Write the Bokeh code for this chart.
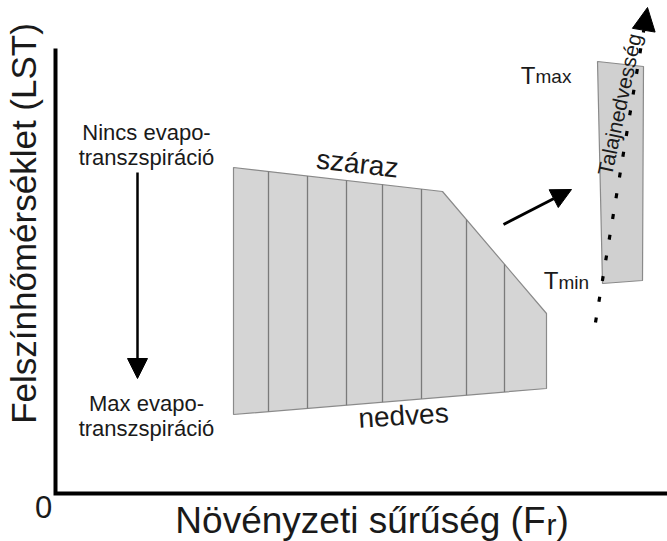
from bokeh.plotting import figure
from bokeh.models import Range1d, Arrow, NormalHead
from bokeh.core.properties import value
from bokeh.embed import file_html
from bokeh.resources import INLINE
import numpy as np

FONT = "Liberation Sans"
INK = "#1a1a1a"

# ---- schematic data (axis units, origin at the axes corner) ----
axis_x_end = 620
axis_y_top = 445

dry_fr = [178, 387, 491]          # dry edge (száraz)
dry_lst = [326, 302, 180]
wet_fr = [178, 491]               # wet edge (nedves)
wet_lst = [79, 105]
column_fr = [213, 252, 291, 327, 366, 411, 449]

box_fr = [542, 588, 587, 547]     # soil-moisture box
box_lst = [432, 427, 213, 210]

moist_start = [540, 171]
moist_end = [592, 486]
shift_start = [448, 269]
shift_end = [516, 304]
et_fr = 82
et_top = 321
et_bottom = 115

labels_left = ["Nincs evapo-", "transzspiráció", "Max evapo-", "transzspiráció"]
labels_left_fr = 91
labels_left_lst = [361, 336, 90, 65]

p = figure(width=667, height=541, output_backend="svg", toolbar_location=None,
           x_range=Range1d(-55, 612), y_range=Range1d(-48, 493),
           min_border=0, outline_line_color=None)
p.axis.visible = False
p.grid.visible = False
p.background_fill_color = "white"

# axes
p.line([0, 0, axis_x_end], [axis_y_top, 0, 0], line_width=4, line_color="black", line_join="miter")

# trapezoid
px = [dry_fr[0], dry_fr[1], dry_fr[2], wet_fr[1], wet_fr[0]]
py = [dry_lst[0], dry_lst[1], dry_lst[2], wet_lst[1], wet_lst[0]]
p.patch(px, py, fill_color="#d5d5d5", line_color="#8a8a8a", line_width=1.2)
p.segment(x0=column_fr, y0=np.interp(column_fr, wet_fr, wet_lst),
          x1=column_fr, y1=np.interp(column_fr, dry_fr, dry_lst),
          line_color="#7a7a7a", line_width=1.3)

# soil moisture box
p.patch(box_fr, box_lst, fill_color="#d0d0d0", line_color="#8a8a8a", line_width=1.2)

# arrows
p.add_layout(Arrow(end=NormalHead(size=20, fill_color="black", line_color="black"),
                   x_start=et_fr, y_start=et_top, x_end=et_fr, y_end=et_bottom,
                   line_width=2.5, line_color="black"))
p.add_layout(Arrow(end=NormalHead(size=20, fill_color="black", line_color="black"),
                   x_start=shift_start[0], y_start=shift_start[1], x_end=shift_end[0], y_end=shift_end[1],
                   line_width=3, line_color="black"))
p.add_layout(Arrow(end=NormalHead(size=23, fill_color="black", line_color="black", line_dash="solid"),
                   x_start=moist_start[0], y_start=moist_start[1], x_end=moist_end[0], y_end=moist_end[1],
                   line_width=3.2, line_color="black", line_dash="5 16"))

# texts
p.text(x=[labels_left_fr] * 4, y=labels_left_lst, text=labels_left, text_align="center",
       text_baseline="middle", text_font=value(FONT), text_font_size="22px", text_color=INK)
p.text(x=[302], y=[330], text=["száraz"], angle=np.deg2rad(-6.5), text_align="center", text_baseline="middle",
       text_font=value(FONT), text_font_size="28px", text_color=INK)
p.text(x=[348], y=[78], text=["nedves"], angle=np.deg2rad(3.5), text_align="center", text_baseline="middle",
       text_font=value(FONT), text_font_size="28px", text_color=INK)
p.text(x=[564], y=[389], text=["Talajnedvesség"], angle=np.deg2rad(78), text_align="center",
       text_baseline="middle", text_font=value(FONT), text_font_size="21px", text_color=INK)

# Tmax / Tmin
p.text(x=[480, 503], y=[418, 213], text=["T", "T"], text_align="right", text_baseline="middle",
       text_font=value(FONT), text_font_size="24px", text_color=INK)
p.text(x=[480, 503], y=[417, 211], text=["max", "min"], text_align="left", text_baseline="middle",
       text_font=value(FONT), text_font_size="19px", text_color=INK)

# axis labels
p.text(x=[-12], y=[-13], text=["0"], text_align="center", text_baseline="middle",
       text_font=value(FONT), text_font_size="31px", text_color=INK)
p.text(x=[-32], y=[270], text=["Felszínhőmérséklet (LST)"], angle=np.pi / 2, text_align="center",
       text_baseline="middle", text_font=value(FONT), text_font_size="35px", text_color=INK)
p.text(x=[490], y=[-27], text=["Növényzeti sűrűség (F"], text_align="right", text_baseline="middle",
       text_font=value(FONT), text_font_size="37px", text_color=INK)
p.text(x=[491], y=[-31], text=["r"], text_align="left", text_baseline="middle",
       text_font=value(FONT), text_font_size="30px", text_color=INK)
p.text(x=[501], y=[-27], text=[")"], text_align="left", text_baseline="middle",
       text_font=value(FONT), text_font_size="37px", text_color=INK)

open("out.html", "w").write(file_html(p, INLINE))
